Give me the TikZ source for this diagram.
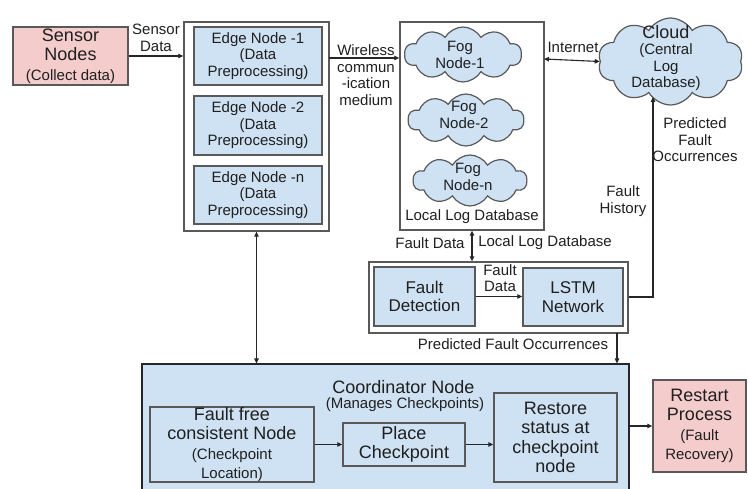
\documentclass[tikz,border=0pt]{standalone}
\usepackage{fontspec}
\setmainfont{Liberation Sans}
\usetikzlibrary{arrows.meta,shapes.symbols}
\definecolor{bluef}{HTML}{CFE2F3}
\definecolor{pinkf}{HTML}{F4CCCC}
\definecolor{bord}{HTML}{595959}
\definecolor{txt}{HTML}{1F1F1F}
\newcommand\fbig{\fontsize{18}{19.5}\selectfont}
\newcommand\fmid{\fontsize{17}{18.5}\selectfont}
\newcommand\fmed{\fontsize{15}{16.5}\selectfont}
\begin{document}
\begin{tikzpicture}[x=1pt,y=-1pt,
 box/.style={draw=bord, line width=1.4pt, inner sep=0pt, align=center, text=txt},
 bluebox/.style={box, fill=bluef},
 pinkbox/.style={box, fill=pinkf},
 cont/.style={draw=bord, line width=1.3pt, fill=white, inner sep=0pt},
 cl/.style={cloud, cloud puffs=10, cloud puff arc=120, cloud ignores aspect, draw=bord, line width=1.2pt, fill=bluef, inner sep=0pt},
 lbl/.style={align=center, text=txt, font=\fmed, inner sep=0pt},
 con/.style={draw=black!85, line width=1.1pt},
 arr/.style={con, -{Triangle[length=5pt,width=4.5pt]}},
 biarr/.style={con, {Triangle[length=5pt,width=4.5pt]}-{Triangle[length=5pt,width=4.5pt]}}]
\useasboundingbox (0,0) rectangle (748,489);

% Sensor
\node[pinkbox, minimum width=115pt, minimum height=58pt, font=\fbig] (sensor) at (70.5,56)
  {Sensor\\Nodes\\{\fmed (Collect data)}};

% Edge container
\node[cont, minimum width=145pt, minimum height=209pt] (edgeC) at (256.5,126.5) {};
\node[bluebox, minimum width=128pt, minimum height=58pt, font=\fmed] (e1) at (258,56) {Edge Node -1\\(Data\\Preprocessing)};
\node[bluebox, minimum width=128pt, minimum height=59pt, font=\fmed] (e2) at (258,125.5) {Edge Node -2\\(Data\\Preprocessing)};
\node[bluebox, minimum width=128pt, minimum height=58pt, font=\fmed] (en) at (258,195) {Edge Node -n\\(Data\\Preprocessing)};

% Fog container
\node[cont, minimum width=144pt, minimum height=208pt] (fogC) at (472,126) {};
\node[cl, minimum width=117pt, minimum height=55pt] (fog1) at (463,54.5) {};
\node[lbl] (fog1t) at (460,55) {Fog\\Node-1};
\node[cl, minimum width=116pt, minimum height=52pt] (fog2) at (466,120) {};
\node[lbl] (fog2t) at (464,115) {Fog\\Node-2};
\node[cl, minimum width=114pt, minimum height=51pt] (fogn) at (470,180.5) {};
\node[lbl] (fognt) at (468,177) {Fog\\Node-n};
\node[lbl] (lldb) at (472,217) {Local Log Database};

% Cloud
\node[cl, minimum width=145pt, minimum height=87pt] (cloud) at (670.5,61.5) {};
\node[lbl] (cloudt) at (666,58) {{\fbig Cloud}\\(Central\\Log\\Database)};

% Fault container
\node[cont, minimum width=259pt, minimum height=71pt] (faultC) at (498.5,297.5) {};
\node[bluebox, minimum width=101pt, minimum height=59pt, font=\fmid] (fd) at (424.5,296.5) {Fault\\Detection};
\node[bluebox, minimum width=100pt, minimum height=58pt, font=\fmid] (lstm) at (573,297) {LSTM\\Network};

% Coordinator
\node[draw=black!85, line width=1.2pt, fill=bluef, minimum width=487pt, minimum height=131pt, inner sep=0pt] (coord) at (385.5,429.5) {};
\node[lbl, font=\fbig] (coordt) at (403.5,387) {Coordinator Node};
\node[lbl] (coords) at (405,405) {(Manages Checkpoints)};
\node[bluebox, minimum width=164pt, minimum height=73pt, font=\fbig] (ff) at (232,444.5)
  {Fault free\\consistent Node\\{\fmed (Checkpoint}\\{\fmed Location)}};
\node[bluebox, minimum width=122pt, minimum height=43pt, font=\fbig] (place) at (404,444.5) {Place\\Checkpoint};
\node[bluebox, minimum width=123pt, minimum height=89pt, font=\fbig] (restore) at (555.5,437.5) {Restore\\status at\\checkpoint\\node};

% Restart
\node[pinkbox, minimum width=93pt, minimum height=92pt, font=\fbig] (restart) at (699.5,426)
  {Restart\\Process\\{\fmed (Fault}\\{\fmed Recovery)}};

% Connectors
\draw[arr] (sensor.east) -- (edgeC.west |- sensor.east);
\node[lbl] (sdl) at (156,38) {Sensor\\Data};

\coordinate (wl) at (329,58);
\draw[arr] (wl) -- (fogC.west |- wl);
\node[lbl] (wll) at (366,75) {Wireless\\commun\\-ication\\medium};

\coordinate (inl) at (544,59);
\draw[biarr] (inl) -- (cloud.west);
\node[lbl] (inll) at (573,47) {Internet};

\coordinate (turn) at (653,297);
\coordinate (clb) at (653,97);
\draw[arr] (faultC.east |- turn) -- (turn) -- (clb);
\node[lbl] (pfo1) at (695,140) {Predicted\\Fault\\Occurrences};
\node[lbl] (fh) at (623,201) {Fault\\History};

\draw[biarr] (fogC.south) -- (fogC.south |- faultC.north);
\node[lbl] (fdl) at (430,243) {Fault Data};
\node[lbl] (lldl) at (545,243) {Local Log Database};

\draw[arr] (fd.east) -- (lstm.west |- fd.east);
\node[lbl] (fdl2) at (500,278) {Fault\\Data};

\coordinate (pfs) at (617,333);
\draw[arr] (pfs) -- (pfs |- coord.north);
\node[lbl] (pfo2) at (513,344) {Predicted Fault Occurrences};

\draw[biarr] (edgeC.south) -- (edgeC.south |- coord.north);

\draw[arr] (ff.east |- place.west) -- (place.west);
\draw[arr] (place.east) -- (restore.west |- place.east);
\draw[arr] (restart.west -| coord.east) -- (restart.west);
\end{tikzpicture}
\end{document}
